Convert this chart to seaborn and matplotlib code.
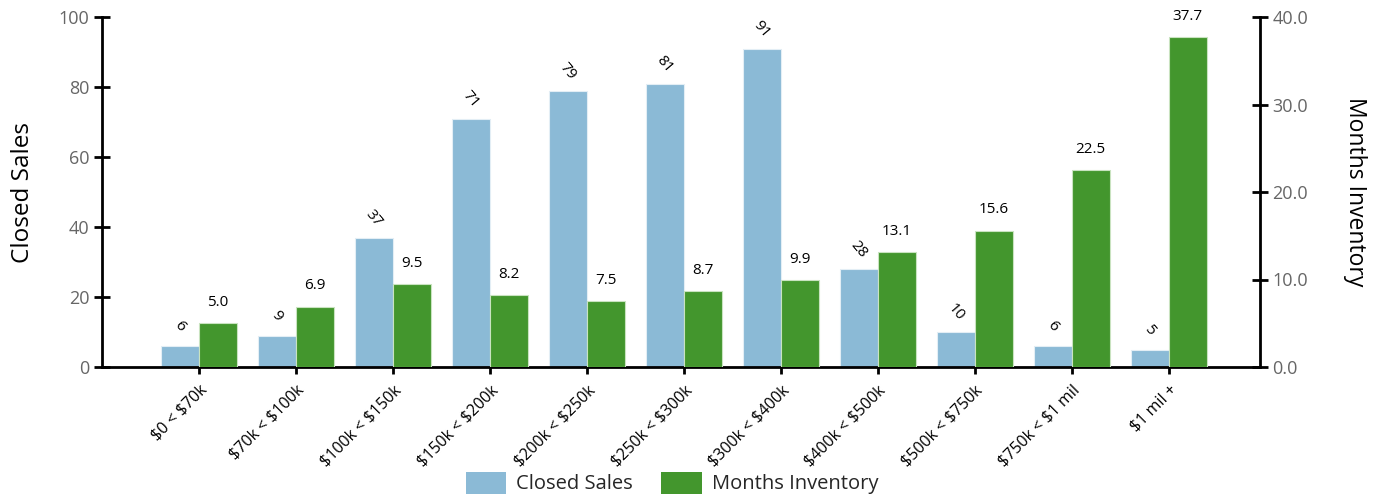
import matplotlib
matplotlib.use("Agg")
import matplotlib.pyplot as plt
import seaborn as sns
import pandas as pd
import numpy as np
from matplotlib.patches import Patch

categories = ["$0 < $70k", "$70k < $100k", "$100k < $150k", "$150k < $200k",
              "$200k < $250k", "$250k < $300k", "$300k < $400k", "$400k < $500k",
              "$500k < $750k", "$750k < $1 mil", "$1 mil +"]
closed_sales = [6, 9, 37, 71, 79, 81, 91, 28, 10, 6, 5]
months_inventory = [5.0, 6.9, 9.5, 8.2, 7.5, 8.7, 9.9, 13.1, 15.6, 22.5, 37.7]
series = ["Closed Sales", "Months Inventory"]
colors = ["#8BBAD6", "#43962D"]

sns.set_theme(style="white")
plt.rcParams['font.family'] = ['Open Sans', 'DejaVu Sans']
plt.rcParams['text.parse_math'] = False

n = len(categories)
df_left = pd.DataFrame({
    "cat": categories * 2,
    "series": [series[0]] * n + [series[1]] * n,
    "value": list(closed_sales) + [np.nan] * n,
})
df_right = pd.DataFrame({
    "cat": categories * 2,
    "series": [series[0]] * n + [series[1]] * n,
    "value": [np.nan] * n + list(months_inventory),
})

fig = plt.figure(figsize=(13.8, 4.98), dpi=100)
ax = fig.add_axes([102/1380, 1 - 367/498, (1260 - 102)/1380, (367 - 17)/498])
ax2 = ax.twinx()

pal = dict(zip(series, colors))
sns.barplot(data=df_left, x="cat", y="value", hue="series", hue_order=series,
            order=categories, palette=pal, width=0.78, gap=0, ax=ax, saturation=1,
            edgecolor="#e3eef5", linewidth=0.8, legend=False, errorbar=None)
sns.barplot(data=df_right, x="cat", y="value", hue="series", hue_order=series,
            order=categories, palette=pal, width=0.78, gap=0, ax=ax2, saturation=1,
            edgecolor="#c9e3c0", linewidth=0.8, legend=False, errorbar=None)

ax.set_ylim(0, 100)
ax2.set_ylim(0, 40)
ax.set_xlim(-1.0, 10.94)
ax.set_yticks([0, 20, 40, 60, 80, 100])
ax2.set_yticks([0, 10, 20, 30, 40])
ax2.set_yticklabels([f"{v:.1f}" for v in [0, 10, 20, 30, 40]])

# labels
for i, v in enumerate(closed_sales):
    ax.annotate(f"{v}", (i - 0.195, v), xytext=(0, 14), textcoords="offset points",
                ha="center", va="center", rotation=-50, fontsize=11, color="black")
for i, v in enumerate(months_inventory):
    ax2.annotate(f"{v:.1f}", (i + 0.195, v), xytext=(0, 15), textcoords="offset points",
                 ha="center", va="center", fontsize=11, color="black")

ax.set_xlabel("")
ax.set_ylabel("Closed Sales", fontsize=17.5, color="black", labelpad=17)
ax2.set_ylabel("Months Inventory", fontsize=16.5, color="black", rotation=270, labelpad=42)
ax.set_xticks(range(n))
ax.set_xticklabels(categories, rotation=45, ha="right", rotation_mode="anchor",
                   fontsize=11.5, color="black")

for a in (ax, ax2):
    for s in a.spines.values():
        s.set_visible(False)
ax.spines["left"].set_visible(True)
ax.spines["bottom"].set_visible(True)
ax2.spines["right"].set_visible(True)
for s in (ax.spines["left"], ax.spines["bottom"], ax2.spines["right"]):
    s.set_color("black")
    s.set_linewidth(2)

ax.tick_params(axis="y", direction="inout", length=12, width=2, color="black",
               labelsize=13, labelcolor="#666666", pad=3, left=True)
ax2.tick_params(axis="y", direction="inout", length=12, width=2, color="black",
                labelsize=13, labelcolor="#666666", pad=3, right=True)
ax.tick_params(axis="x", direction="out", length=5, width=2, color="black",
               pad=6, bottom=True)
ax.grid(False)
ax2.grid(False)

handles = [Patch(facecolor=colors[0], edgecolor="none"),
           Patch(facecolor=colors[1], edgecolor="none")]
fig.legend(handles, series, loc="center", bbox_to_anchor=(672/1380, 1 - 483/498),
           ncol=2, frameon=False, fontsize=14.5, handlelength=2.0, handleheight=1.3,
           columnspacing=1.4, handletextpad=0.5)

fig.savefig("out.png", dpi=100)
